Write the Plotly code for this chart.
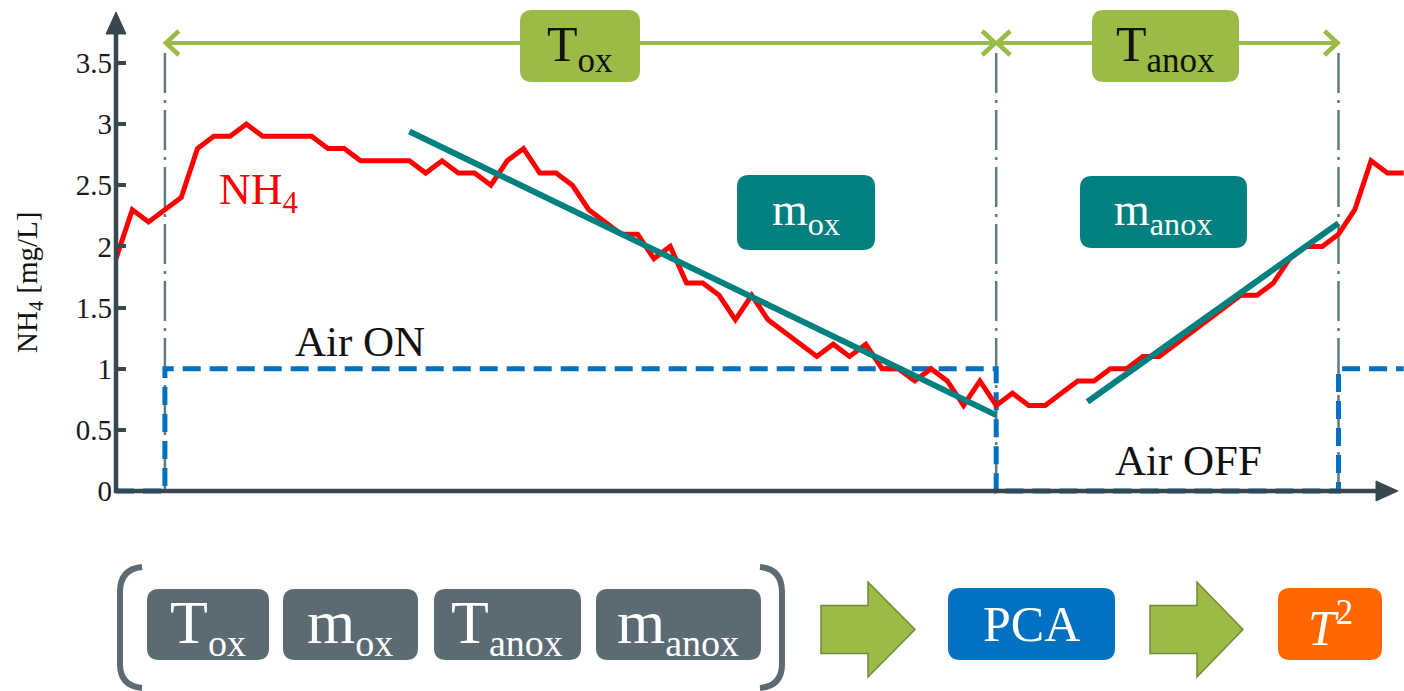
import plotly.graph_objects as go

# NH4 concentration, one sample per time step [mg/L]
nh4 = [1.9, 2.3, 2.2, 2.3, 2.4, 2.8, 2.9, 2.9, 3.0, 2.9,
       2.9, 2.9, 2.9, 2.8, 2.8, 2.7, 2.7, 2.7, 2.7, 2.6,
       2.7, 2.6, 2.6, 2.5, 2.7, 2.8, 2.6, 2.6, 2.5, 2.3,
       2.2, 2.1, 2.1, 1.9, 2.0, 1.7, 1.7, 1.6, 1.4, 1.6,
       1.4, 1.3, 1.2, 1.1, 1.2, 1.1, 1.2, 1.0, 1.0, 0.9,
       1.0, 0.9, 0.7, 0.9, 0.7, 0.8, 0.7, 0.7, 0.8, 0.9,
       0.9, 1.0, 1.0, 1.1, 1.1, 1.2, 1.3, 1.4, 1.5, 1.6,
       1.6, 1.7, 1.9, 2.0, 2.0, 2.1, 2.3, 2.7, 2.6, 2.6]
t = list(range(len(nh4)))

# aeration state as a step signal (1 = air on, 0 = air off)
air_t = [0, 3, 3, 54, 54, 75, 75, 79]
air_state = [0, 0, 1, 1, 0, 0, 1, 1]

# start of oxic phase, start of anoxic phase, start of next oxic phase
phase_edges = [3, 54, 75]

# linear trends over the oxic and anoxic phases
trend_ox_t = [18, 54]
trend_ox_v = [2.94, 0.62]
trend_anox_t = [59.6, 75]
trend_anox_v = [0.73, 2.19]

y_ticks = [0, 0.5, 1, 1.5, 2, 2.5, 3, 3.5]
y_tick_text = ["0", "0.5", "1", "1.5", "2", "2.5", "3", "3.5"]

# ---------------------------------------------------------------- geometry
W, H = 1404, 691
ORIGIN_X, T_STEP = 116, 16.3        # pixel of t=0, pixels per time step
ORIGIN_Y, Y_UNIT = 491, 122.3       # pixel of NH4=0, pixels per mg/L
x_range = [-ORIGIN_X / T_STEP, (W - ORIGIN_X) / T_STEP]
y_range = [-(H - ORIGIN_Y) / Y_UNIT, ORIGIN_Y / Y_UNIT]

FONT = "Liberation Serif"
AXIS = "#37474f"
GREEN = "#9bbb47"
TEAL = "#00807f"
SLATE = "#5b6a73"
PHASE = "#5f7a84"


def t_px(t_val):
    return ORIGIN_X + t_val * T_STEP


def t_at(px):
    return (px - ORIGIN_X) / T_STEP


def v_at(py):
    return (ORIGIN_Y - py) / Y_UNIT


def fx(px):
    return px / W


def fy(py):
    return 1 - py / H


def pt(x, y):
    return f"{fx(x):.5f},{fy(y):.5f}"


def poly(points, closed=True):
    path = "M" + " L".join(pt(a, b) for a, b in points)
    return path + (" Z" if closed else "")


def rounded_box(x0, y0, x1, y1, color, r=12):
    path = (f"M{pt(x0 + r, y0)} L{pt(x1 - r, y0)} Q{pt(x1, y0)} {pt(x1, y0 + r)} "
            f"L{pt(x1, y1 - r)} Q{pt(x1, y1)} {pt(x1 - r, y1)} "
            f"L{pt(x0 + r, y1)} Q{pt(x0, y1)} {pt(x0, y1 - r)} "
            f"L{pt(x0, y0 + r)} Q{pt(x0, y0)} {pt(x0 + r, y0)} Z")
    return dict(type="path", path=path, xref="paper", yref="paper",
                fillcolor=color, line=dict(width=0), layer="above")


def block_arrow(x0, xh, x1, yc):
    body, head = 24, 47.5
    pts = [(x0, yc - body), (xh, yc - body), (xh, yc - head), (x1, yc),
           (xh, yc + head), (xh, yc + body), (x0, yc + body)]
    return dict(type="path", path=poly(pts), xref="paper", yref="paper",
                fillcolor=GREEN, line=dict(color="#71893a", width=1.5), layer="above")


def chevron(tip_x, tip_y, direction):
    back, half = 13 * direction, 12
    pts = [(tip_x - back, tip_y - half), (tip_x, tip_y), (tip_x - back, tip_y + half)]
    return dict(type="path", path=poly(pts, closed=False), xref="paper", yref="paper",
                line=dict(color=GREEN, width=4.5), layer="above")


def filled_head(tip, base_a, base_b, color):
    return dict(type="path", path=poly([base_a, tip, base_b]), xref="paper", yref="paper",
                fillcolor=color, line=dict(color=color, width=1), layer="above")


fig = go.Figure()

fig.add_trace(go.Scatter(x=air_t, y=air_state, mode="lines",
                         line=dict(color="#0070c0", width=5, dash="18px,9px"),
                         hoverinfo="skip"))
fig.add_trace(go.Scatter(x=t, y=nh4, mode="lines",
                         line=dict(color="#ff0000", width=5), hoverinfo="skip"))
fig.add_trace(go.Scatter(x=trend_ox_t, y=trend_ox_v, mode="lines",
                         line=dict(color=TEAL, width=6), hoverinfo="skip"))
fig.add_trace(go.Scatter(x=trend_anox_t, y=trend_anox_v, mode="lines",
                         line=dict(color=TEAL, width=6), hoverinfo="skip"))

shapes = []
annotations = []

# phase boundaries
for edge in phase_edges:
    shapes.append(dict(type="line", xref="x", yref="y", x0=edge, x1=edge,
                       y0=v_at(53), y1=0, layer="below",
                       line=dict(color=PHASE, width=2.5, dash="40px,7px,3px,7px")))

# axes with arrow heads
shapes.append(dict(type="line", xref="x", yref="y", x0=0, x1=0, y0=v_at(493), y1=v_at(30),
                   line=dict(color=AXIS, width=4.5), layer="above"))
shapes.append(dict(type="line", xref="x", yref="y", x0=t_at(114), x1=t_at(1380), y0=0, y1=0,
                   line=dict(color=AXIS, width=4.5), layer="above"))
shapes.append(filled_head((116, 12), (106, 34), (126, 34), AXIS))
shapes.append(filled_head((1398, 491), (1376, 481), (1376, 501), AXIS))

# phase duration arrows and labels
arrow_y = v_at(43)
for x0, x1 in [(phase_edges[0], phase_edges[1]), (phase_edges[1], phase_edges[2])]:
    shapes.append(dict(type="line", xref="x", yref="y", x0=x0 + 0.12, x1=x1 - 0.12,
                       y0=arrow_y, y1=arrow_y, line=dict(color=GREEN, width=4),
                       layer="above"))
    shapes.append(chevron(t_px(x0) + 1, 43, -1))
    shapes.append(chevron(t_px(x1) - 1, 43, 1))
shapes.append(rounded_box(520, 10, 640, 82, GREEN))
shapes.append(rounded_box(1092, 10, 1239, 82, GREEN))
shapes.append(rounded_box(737, 175, 875, 250, TEAL))
shapes.append(rounded_box(1080, 176, 1247, 248, TEAL))

# feature vector, PCA and T2 flow
for x0, x1 in [(147, 269), (283, 418), (434, 581), (596, 761)]:
    shapes.append(rounded_box(x0, 589, x1, 660, SLATE))
shapes.append(rounded_box(948, 588, 1115, 660, "#0070c0"))
shapes.append(rounded_box(1278, 588, 1382, 660, "#ff6600"))
shapes.append(block_arrow(821, 868, 915, 629.5))
shapes.append(block_arrow(1150, 1197, 1243, 629.5))
bracket_l = (f"M{pt(142, 567)} Q{pt(120, 569)} {pt(120, 592)} L{pt(120, 664)} "
             f"Q{pt(120, 686)} {pt(142, 688)}")
bracket_r = (f"M{pt(760, 567)} Q{pt(782, 569)} {pt(782, 592)} L{pt(782, 664)} "
             f"Q{pt(782, 686)} {pt(760, 688)}")
for p in (bracket_l, bracket_r):
    shapes.append(dict(type="path", path=p, xref="paper", yref="paper",
                       line=dict(color=SLATE, width=6), layer="above"))


def label(x, y, text, size, color="#111111", xanchor="center", angle=0):
    annotations.append(dict(x=fx(x), y=fy(y), xref="paper", yref="paper", text=text,
                            showarrow=False, xanchor=xanchor, yanchor="middle",
                            textangle=angle, font=dict(family=FONT, size=size, color=color)))


label(29, 283, "NH<sub>4</sub> [mg/L]", 29, angle=-90)
label(217, 192, "NH<sub>4</sub>", 44, color="#ff0000", xanchor="left")
label(360, 341, "Air ON", 43)
label(1188, 460, "Air OFF", 43)
label(580, 48, "T<sub>ox</sub>", 50)
label(1165, 48, "T<sub>anox</sub>", 50)
label(806, 213, "m<sub>ox</sub>", 46, color="white")
label(1163, 213, "m<sub>anox</sub>", 46, color="white")

sub = "<span style='font-size:38px'>{}</span>"
for cx, main, s in [(208, "T", "ox"), (350, "m", "ox"), (507, "T", "anox"), (678, "m", "anox")]:
    label(cx, 626, f"{main}<sub>{sub.format(s)}</sub>", 62, color="white")
label(1031, 624, "PCA", 50, color="white")
label(1330, 624, "<i>T</i><sup>2</sup>", 50, color="white")

fig.update_layout(
    width=W, height=H, autosize=False,
    margin=dict(l=0, r=0, t=0, b=0),
    template="none",
    paper_bgcolor="white", plot_bgcolor="white",
    showlegend=False,
    xaxis=dict(range=x_range, domain=[0, 1], visible=False, fixedrange=True),
    yaxis=dict(range=y_range, domain=[0, 1], anchor="free", position=fx(ORIGIN_X),
               tickmode="array", tickvals=y_ticks, ticktext=y_tick_text,
               ticks="inside", ticklen=9, tickwidth=4, tickcolor=AXIS,
               showline=False, showgrid=False, zeroline=False, automargin=False,
               ticklabelstandoff=4, fixedrange=True,
               tickfont=dict(family=FONT, size=29, color="#1a1a1a")),
    shapes=shapes,
    annotations=annotations,
)

fig.write_html("out.html")
